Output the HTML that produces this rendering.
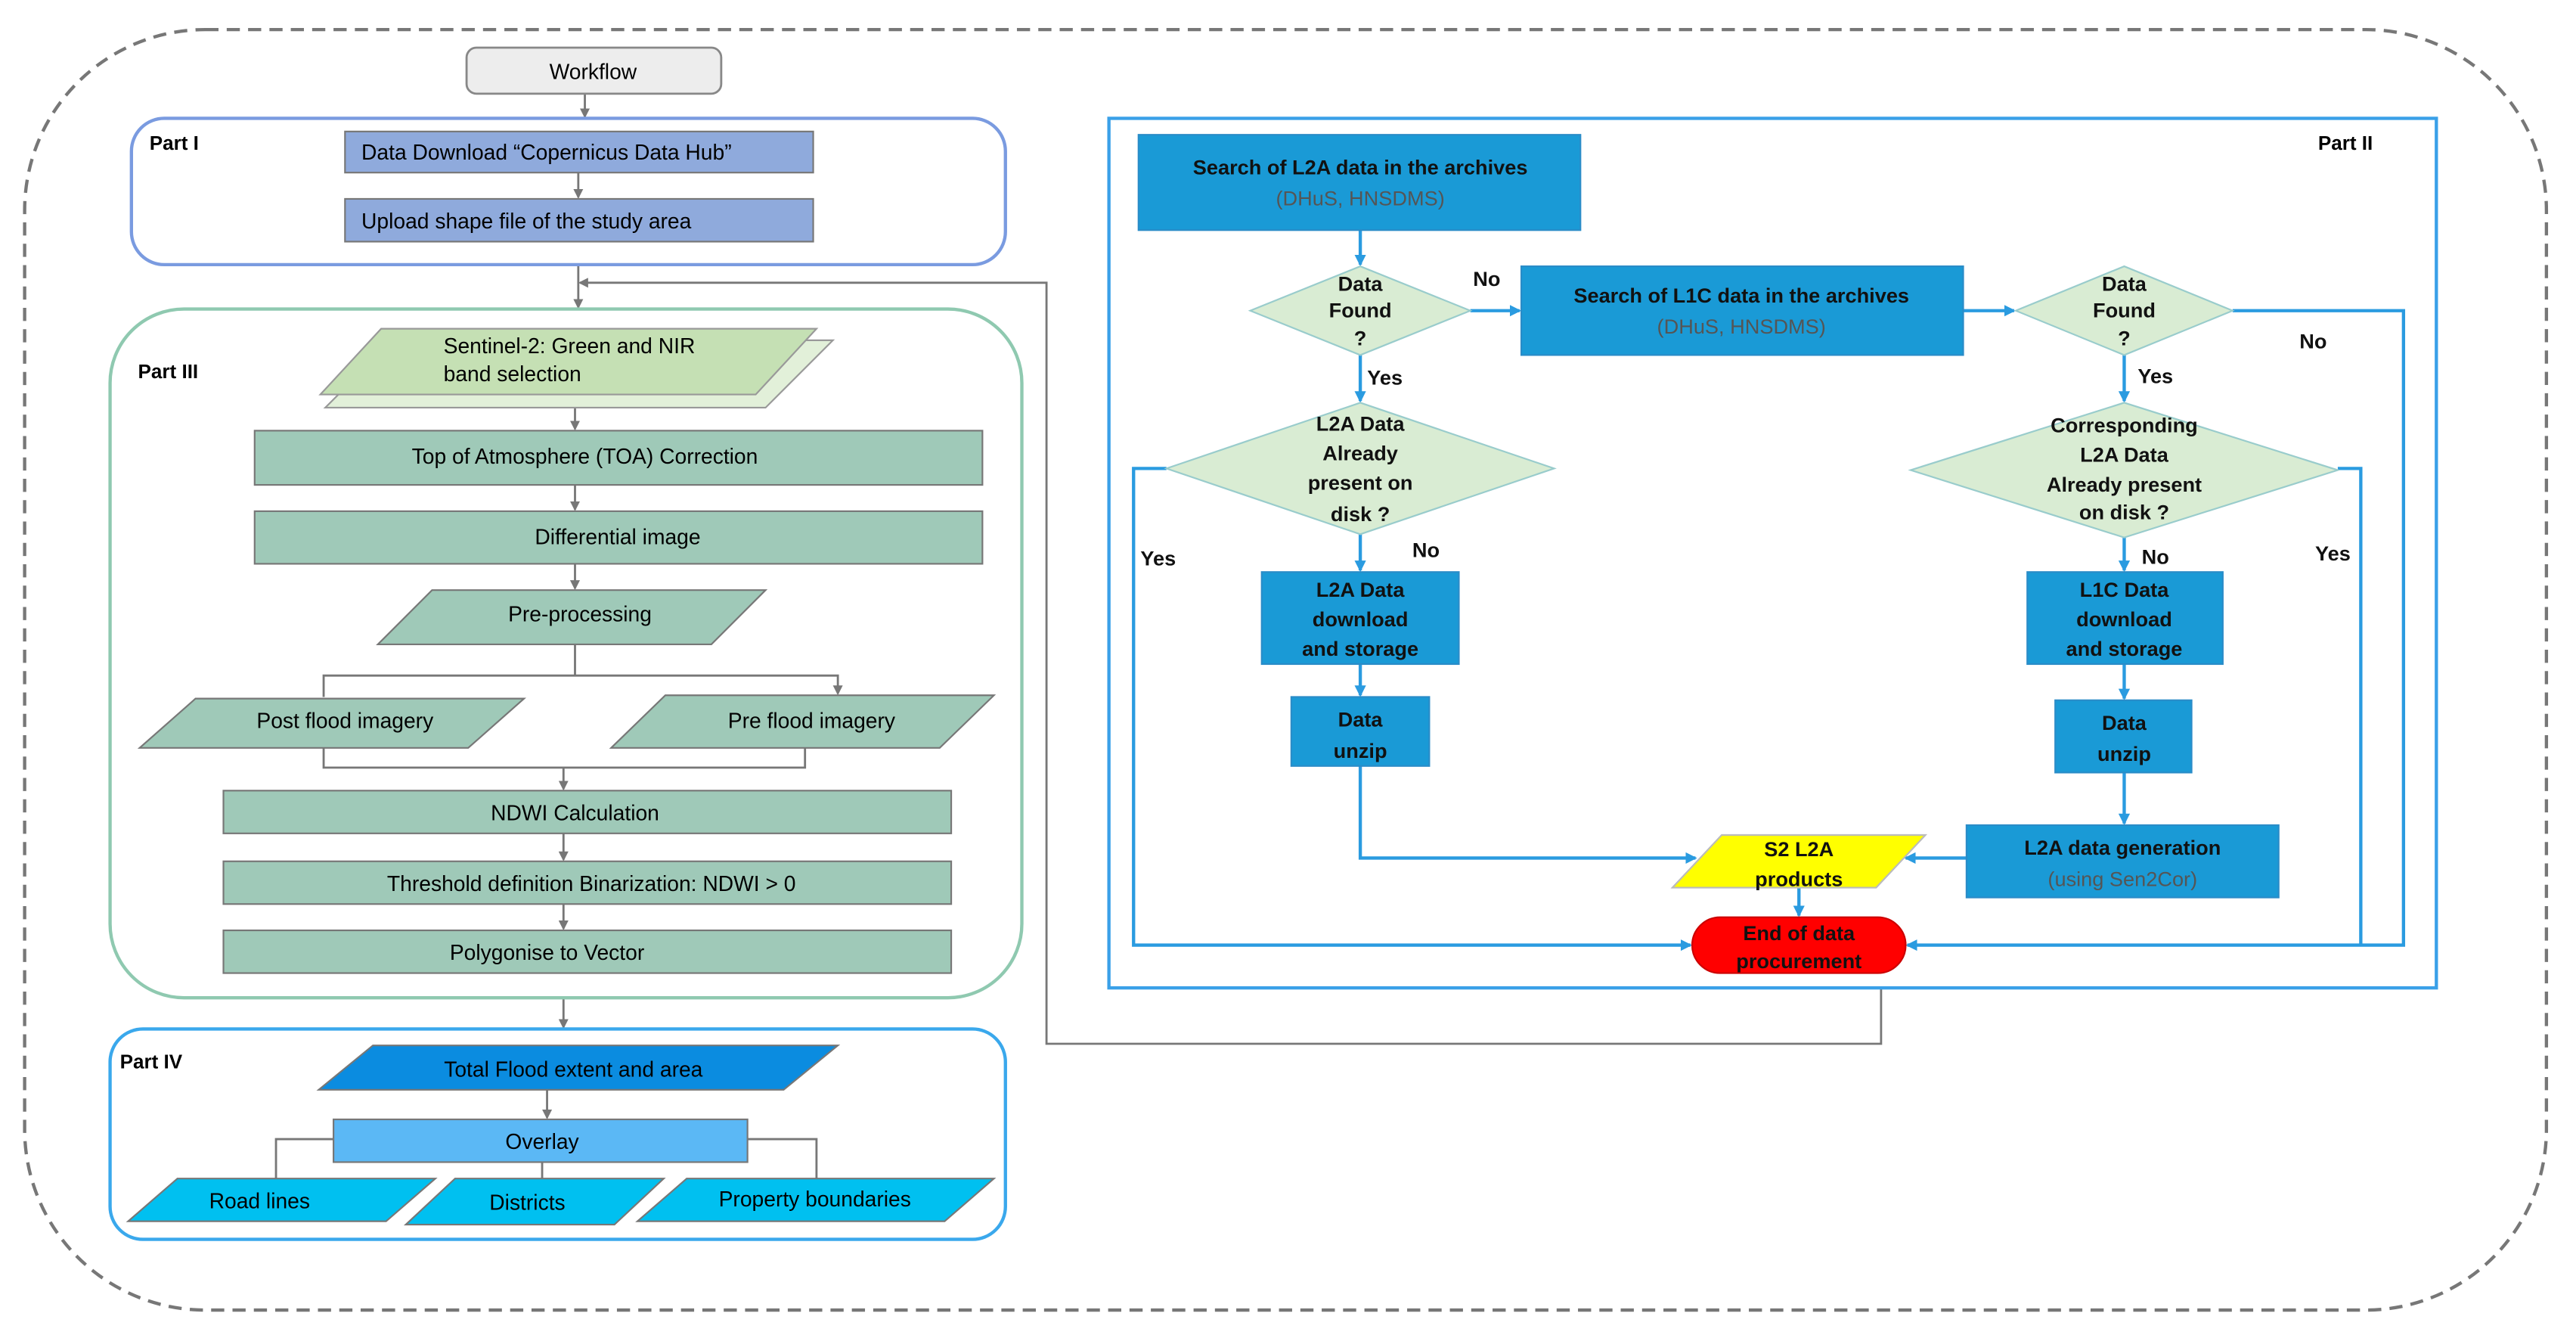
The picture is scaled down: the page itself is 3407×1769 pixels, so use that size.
<!DOCTYPE html>
<html><head><meta charset="utf-8"><style>html,body{margin:0;padding:0;background:#fff}svg{display:block}text{font-family:"Liberation Sans",sans-serif}</style></head><body>
<svg width="3407" height="1769" viewBox="0 0 1568 814" preserveAspectRatio="none" xmlns="http://www.w3.org/2000/svg">
<defs>
<marker id="ag" markerWidth="6" markerHeight="6" refX="5" refY="3" orient="auto" markerUnits="userSpaceOnUse"><path d="M0,0 L6,3 L0,6z" fill="#777"/></marker>
<marker id="ab" markerWidth="7" markerHeight="7" refX="6" refY="3.5" orient="auto" markerUnits="userSpaceOnUse"><path d="M0,0 L7,3.5 L0,7z" fill="#2a9be0"/></marker>
</defs>
<rect x="15" y="18" width="1535" height="779" rx="110" fill="none" stroke="#777" stroke-width="2" stroke-dasharray="8,5"/>
<!-- Left -->
<g stroke="#777" stroke-width="1.3" fill="none">
<line x1="356" y1="57" x2="356" y2="71" marker-end="url(#ag)"/>
<line x1="352" y1="105" x2="352" y2="120" marker-end="url(#ag)"/>
<line x1="352" y1="161" x2="352" y2="187" marker-end="url(#ag)"/>
<polyline points="1145,601 1145,635 637,635 637,172 353,172" marker-end="url(#ag)"/>
<line x1="350" y1="244" x2="350" y2="261" marker-end="url(#ag)"/>
<line x1="350" y1="295" x2="350" y2="310" marker-end="url(#ag)"/>
<line x1="350" y1="343" x2="350" y2="358" marker-end="url(#ag)"/>
<line x1="350" y1="392" x2="350" y2="411"/>
<polyline points="197,424 197,411 510,411 510,422" marker-end="url(#ag)"/>
<polyline points="197,455 197,467 490,467 490,455"/>
<line x1="343" y1="467" x2="343" y2="480" marker-end="url(#ag)"/>
<line x1="343" y1="507" x2="343" y2="523" marker-end="url(#ag)"/>
<line x1="343" y1="550" x2="343" y2="565" marker-end="url(#ag)"/>
<line x1="343" y1="607" x2="343" y2="625" marker-end="url(#ag)"/>
<line x1="333" y1="663" x2="333" y2="680" marker-end="url(#ag)"/>
<polyline points="203,693 168,693 168,717"/>
<polyline points="455,693 497,693 497,717"/>
<line x1="330" y1="707" x2="330" y2="717"/>
</g>
<rect x="284" y="29" width="155" height="28" rx="6" fill="#ededed" stroke="#888" stroke-width="1.3"/>
<text x="361" y="48" font-size="13" text-anchor="middle">Workflow</text>
<rect x="80" y="72" width="532" height="89" rx="20" fill="none" stroke="#7a9be0" stroke-width="2"/>
<text x="91" y="91" font-size="12" font-weight="bold">Part I</text>
<rect x="210" y="80" width="285" height="25" fill="#8faadc" stroke="#777"/>
<text x="220" y="97" font-size="13">Data Download “Copernicus Data Hub”</text>
<rect x="210" y="121" width="285" height="26" fill="#8faadc" stroke="#777"/>
<text x="220" y="139" font-size="13">Upload shape file of the study area</text>
<rect x="67" y="188" width="555" height="419" rx="45" fill="none" stroke="#8fc9b0" stroke-width="2"/>
<text x="84" y="230" font-size="12" font-weight="bold">Part III</text>
<polygon points="198,248 466,248 507,207 239,207" fill="#e2f0d9" stroke="#999"/>
<polygon points="195,240 460,240 497,200 232,200" fill="#c5e0b4" stroke="#999"/>
<text x="270" y="215" font-size="13">Sentinel-2: Green and NIR</text>
<text x="270" y="232" font-size="13">band selection</text>
<rect x="155" y="262" width="443" height="33" fill="#9fc9b8" stroke="#777"/>
<text x="356" y="282" font-size="13" text-anchor="middle">Top of Atmosphere (TOA) Correction</text>
<rect x="155" y="311" width="443" height="32" fill="#9fc9b8" stroke="#777"/>
<text x="376" y="331" font-size="13" text-anchor="middle">Differential image</text>
<polygon points="230,392 433,392 466,359 263,359" fill="#9fc9b8" stroke="#777"/>
<text x="353" y="378" font-size="13" text-anchor="middle">Pre-processing</text>
<polygon points="85,455 285,455 319,425 119,425" fill="#9fc9b8" stroke="#777"/>
<text x="210" y="443" font-size="13" text-anchor="middle">Post flood imagery</text>
<polygon points="372,455 572,455 605,423 405,423" fill="#9fc9b8" stroke="#777"/>
<text x="494" y="443" font-size="13" text-anchor="middle">Pre flood imagery</text>
<rect x="136" y="481" width="443" height="26" fill="#9fc9b8" stroke="#777"/>
<text x="350" y="499" font-size="13" text-anchor="middle">NDWI Calculation</text>
<rect x="136" y="524" width="443" height="26" fill="#9fc9b8" stroke="#777"/>
<text x="360" y="542" font-size="13" text-anchor="middle">Threshold definition Binarization: NDWI &gt; 0</text>
<rect x="136" y="566" width="443" height="26" fill="#9fc9b8" stroke="#777"/>
<text x="333" y="584" font-size="13" text-anchor="middle">Polygonise to Vector</text>
<rect x="67" y="626" width="545" height="128" rx="20" fill="none" stroke="#3aa8ec" stroke-width="2"/>
<text x="73" y="650" font-size="12" font-weight="bold">Part IV</text>
<polygon points="194,663 477,663 510,636 227,636" fill="#0b8ce0" stroke="#777"/>
<text x="349" y="655" font-size="13" text-anchor="middle">Total Flood extent and area</text>
<rect x="203" y="681" width="252" height="26" fill="#5bb8f5" stroke="#777"/>
<text x="330" y="699" font-size="13" text-anchor="middle">Overlay</text>
<polygon points="78,743 235,743 265,717 108,717" fill="#00c0f0" stroke="#777"/>
<text x="158" y="735" font-size="13" text-anchor="middle">Road lines</text>
<polygon points="247,745 374,745 404,717 277,717" fill="#00c0f0" stroke="#777"/>
<text x="321" y="736" font-size="13" text-anchor="middle">Districts</text>
<polygon points="388,743 575,743 605,717 418,717" fill="#00c0f0" stroke="#777"/>
<text x="496" y="734" font-size="13" text-anchor="middle">Property boundaries</text>
<!-- Part II -->
<rect x="675" y="72" width="808" height="529" fill="none" stroke="#3aa0e8" stroke-width="2"/>
<text x="1411" y="91" font-size="12" font-weight="bold">Part II</text>
<g stroke="#2a9be0" stroke-width="2" fill="none">
<line x1="828" y1="140" x2="828" y2="161" marker-end="url(#ab)"/>
<line x1="895" y1="189" x2="925" y2="189" marker-end="url(#ab)"/>
<line x1="1195" y1="189" x2="1226" y2="189" marker-end="url(#ab)"/>
<polyline points="1359,189 1463,189 1463,575 1161,575" marker-end="url(#ab)"/>
<line x1="828" y1="216" x2="828" y2="244" marker-end="url(#ab)"/>
<line x1="1293" y1="216" x2="1293" y2="244" marker-end="url(#ab)"/>
<polyline points="710,285 690,285 690,575 1029,575" marker-end="url(#ab)"/>
<polyline points="1423,285 1437,285 1437,575"/>
<line x1="828" y1="325" x2="828" y2="347" marker-end="url(#ab)"/>
<line x1="1293" y1="327" x2="1293" y2="347" marker-end="url(#ab)"/>
<line x1="828" y1="404" x2="828" y2="423" marker-end="url(#ab)"/>
<line x1="1293" y1="404" x2="1293" y2="425" marker-end="url(#ab)"/>
<polyline points="828,466 828,522 1032,522" marker-end="url(#ab)"/>
<line x1="1293" y1="470" x2="1293" y2="501" marker-end="url(#ab)"/>
<line x1="1197" y1="522" x2="1160" y2="522" marker-end="url(#ab)"/>
<line x1="1095" y1="540" x2="1095" y2="557" marker-end="url(#ab)"/>
</g>
<g font-size="12.5" font-weight="bold" text-anchor="middle" fill="#111">
<rect x="693" y="82" width="269" height="58" fill="#1a9ad6" stroke="#2a8cc8"/>
<text x="828" y="106">Search of L2A data in the archives</text>
<text x="828" y="125" fill="#555" font-weight="normal">(DHuS, HNSDMS)</text>
<polygon points="761,189 828,162 895,189 828,216" fill="#d9ecd3" stroke="#9cc"/>
<text x="828" y="177">Data</text><text x="828" y="193">Found</text><text x="828" y="210">?</text>
<rect x="926" y="162" width="269" height="54" fill="#1a9ad6" stroke="#2a8cc8"/>
<text x="1060" y="184">Search of L1C data in the archives</text>
<text x="1060" y="203" fill="#555" font-weight="normal">(DHuS, HNSDMS)</text>
<polygon points="1227,189 1293,162 1359,189 1293,216" fill="#d9ecd3" stroke="#9cc"/>
<text x="1293" y="177">Data</text><text x="1293" y="193">Found</text><text x="1293" y="210">?</text>
<polygon points="710,285 828,245 946,285 828,325" fill="#d9ecd3" stroke="#9cc"/>
<text x="828" y="262">L2A Data</text><text x="828" y="280">Already</text><text x="828" y="298">present on</text><text x="828" y="317">disk ?</text>
<polygon points="1163,286 1293,245 1423,286 1293,327" fill="#d9ecd3" stroke="#9cc"/>
<text x="1293" y="263">Corresponding</text><text x="1293" y="281">L2A Data</text><text x="1293" y="299">Already present</text><text x="1293" y="316">on disk ?</text>
<rect x="768" y="348" width="120" height="56" fill="#1a9ad6" stroke="#2a8cc8"/>
<text x="828" y="363">L2A Data</text><text x="828" y="381">download</text><text x="828" y="399">and storage</text>
<rect x="1234" y="348" width="119" height="56" fill="#1a9ad6" stroke="#2a8cc8"/>
<text x="1293" y="363">L1C Data</text><text x="1293" y="381">download</text><text x="1293" y="399">and storage</text>
<rect x="786" y="424" width="84" height="42" fill="#1a9ad6" stroke="#2a8cc8"/>
<text x="828" y="442">Data</text><text x="828" y="461">unzip</text>
<rect x="1251" y="426" width="83" height="44" fill="#1a9ad6" stroke="#2a8cc8"/>
<text x="1293" y="444">Data</text><text x="1293" y="463">unzip</text>
<rect x="1197" y="502" width="190" height="44" fill="#1a9ad6" stroke="#2a8cc8"/>
<text x="1292" y="520">L2A data generation</text>
<text x="1292" y="539" fill="#555" font-weight="normal">(using Sen2Cor)</text>
<polygon points="1018,540 1142,540 1172,508 1048,508" fill="#ffff00" stroke="#bbb"/>
<text x="1095" y="521">S2 L2A</text><text x="1095" y="539">products</text>
<rect x="1030" y="558" width="130" height="34" rx="17" fill="#ff0000" stroke="#c00"/>
<text x="1095" y="572">End of data</text><text x="1095" y="589">procurement</text>
<text x="905" y="174">No</text>
<text x="1408" y="212">No</text>
<text x="843" y="234">Yes</text>
<text x="1312" y="233">Yes</text>
<text x="705" y="344">Yes</text>
<text x="868" y="339">No</text>
<text x="1420" y="341">Yes</text>
<text x="1312" y="343">No</text>
</g>
</svg>
</body></html>
